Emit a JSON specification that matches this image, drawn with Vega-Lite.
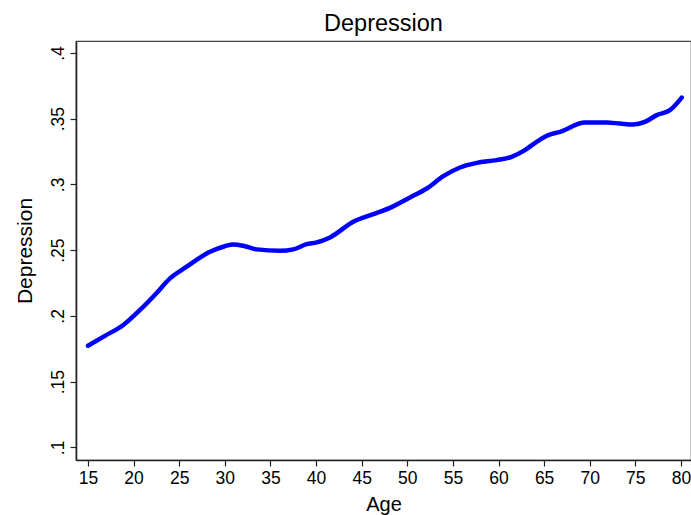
{
  "$schema": "https://vega.github.io/schema/vega-lite/v6.json",
  "width": 615,
  "height": 419,
  "autosize": {"type": "none"},
  "padding": {"left": 76, "top": 41, "right": 0, "bottom": 55},
  "background": "white",
  "config": {
    "font": "Liberation Sans",
    "view": {"stroke": "#444444", "strokeWidth": 1.2},
    "axis": {"grid": false, "domainColor": "#222222", "domainWidth": 1.6, "tickColor": "#222222", "tickWidth": 1.2, "tickSize": 6, "labelColor": "black", "titleColor": "black", "labelFontSize": 17.5, "titleFontSize": 20, "titleFontWeight": "normal", "labelFont": "Liberation Sans", "titleFont": "Liberation Sans"}
  },
  "title": {"text": "Depression", "fontSize": 23.5, "fontWeight": "normal", "font": "Liberation Sans", "anchor": "middle", "offset": 6, "color": "black"},
  "data": {"values": [
    {"age": 15.0, "dep": 0.1773},
    {"age": 16.9, "dep": 0.1850},
    {"age": 18.87, "dep": 0.1931},
    {"age": 20.7, "dep": 0.2045},
    {"age": 22.4, "dep": 0.2165},
    {"age": 23.99, "dep": 0.2285},
    {"age": 25.82, "dep": 0.2374},
    {"age": 28.37, "dep": 0.2488},
    {"age": 30.0, "dep": 0.2530},
    {"age": 30.93, "dep": 0.2544},
    {"age": 32.2, "dep": 0.2530},
    {"age": 33.49, "dep": 0.2506},
    {"age": 36.05, "dep": 0.2495},
    {"age": 37.5, "dep": 0.2506},
    {"age": 38.97, "dep": 0.2546},
    {"age": 40.07, "dep": 0.2559},
    {"age": 41.53, "dep": 0.2597},
    {"age": 44.08, "dep": 0.2716},
    {"age": 46.27, "dep": 0.2774},
    {"age": 48.1, "dep": 0.2822},
    {"age": 50.3, "dep": 0.2901},
    {"age": 52.13, "dep": 0.2969},
    {"age": 53.95, "dep": 0.3063},
    {"age": 55.78, "dep": 0.3129},
    {"age": 57.61, "dep": 0.3164},
    {"age": 59.8, "dep": 0.3185},
    {"age": 61.44, "dep": 0.3210},
    {"age": 62.71, "dep": 0.3253},
    {"age": 64.18, "dep": 0.3324},
    {"age": 65.45, "dep": 0.3375},
    {"age": 66.73, "dep": 0.3400},
    {"age": 69.48, "dep": 0.3471},
    {"age": 71.86, "dep": 0.3471},
    {"age": 73.31, "dep": 0.3463},
    {"age": 74.77, "dep": 0.3456},
    {"age": 76.05, "dep": 0.3476},
    {"age": 77.34, "dep": 0.3527},
    {"age": 78.79, "dep": 0.3565},
    {"age": 80.08, "dep": 0.3661}
  ]},
  "mark": {"type": "line", "color": "#0000ff", "strokeWidth": 4.5, "strokeCap": "round", "strokeJoin": "round", "interpolate": "monotone", "clip": true},
  "encoding": {
    "x": {"field": "age", "type": "quantitative", "title": "Age",
      "scale": {"domain": [13.685, 81.1], "nice": false, "zero": false},
      "axis": {"values": [15,20,25,30,35,40,45,50,55,60,65,70,75,80], "labelPadding": 3, "titlePadding": 8, "labelFlush": false}},
    "y": {"field": "dep", "type": "quantitative", "title": "Depression",
      "scale": {"domain": [0.0904, 0.4091], "nice": false, "zero": false},
      "axis": {"values": [0.1, 0.15, 0.2, 0.25, 0.3, 0.35, 0.4], "labelAngle": -90, "labelAlign": "center", "labelBaseline": "bottom", "labelPadding": 3, "labelExpr": "substring(format(datum.value, '~g'), 1)", "titlePadding": 14, "titleFontSize": 21, "labelFlush": false}}
  }
}
